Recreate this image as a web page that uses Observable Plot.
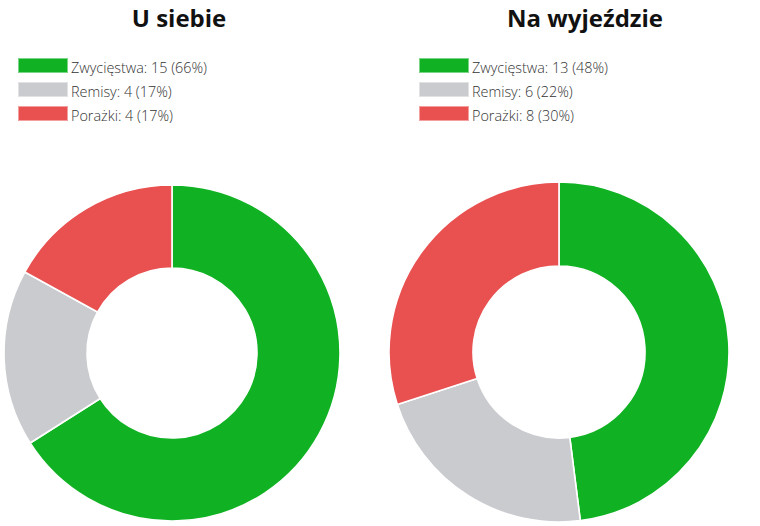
<!DOCTYPE html>
<html>
<head>
<meta charset="utf-8">
<script src="https://cdn.jsdelivr.net/npm/d3@7"></script>
<script src="https://cdn.jsdelivr.net/npm/@observablehq/plot@0.6"></script>
<style>
  html, body { margin: 0; padding: 0; background: #fff; }
  body { width: 760px; height: 526px; position: relative; overflow: hidden; font-family: "Open Sans", sans-serif; }
  .title { position: absolute; top: 6px; font-size: 24px; line-height: 24px; font-weight: 700; color: #111; white-space: nowrap; transform: translateX(-50%); }
  .legend { position: absolute; top: 53px; }
  .lg-swatches { font-family: "Open Sans", sans-serif; font-size: 14.4px; font-weight: 300; color: #333; margin: 0 !important; }
  .lg-swatch { height: 24.3px; padding-bottom: 0 !important; }
  .lg-swatch > svg { margin-right: 3px !important; }
  .lg-swatch > svg rect { stroke: rgba(255,255,255,0.45); stroke-width: 2px; }
  .lg-swatch-label { position: relative; top: 2.5px; line-height: 20px; }
  .pie { position: absolute; }
</style>
</head>
<body>
<script>
// ---- data ----
const categories = ["Zwycięstwa", "Remisy", "Porażki"];
const homeValues = [15, 4, 4];
const awayValues = [13, 6, 8];
const homePercents = [66, 17, 17];
const awayPercents = [48, 22, 30];
const titles = ["U siebie", "Na wyjeździe"];
const colors = ["#10b223", "#cacbcf", "#e95050"];

// ---- layout (panel positions) ----
const panels = [
  {title: titles[0], values: homeValues, percents: homePercents, titleX: 179, legendX: 18, cx: 172, cy: 353, r: 168},
  {title: titles[1], values: awayValues, percents: awayPercents, titleX: 585, legendX: 419, cx: 559, cy: 351.5, r: 170}
];

// slices are sized by the (rounded) percentages shown in the legend
function donut(percents, radius) {
  const data = categories.map((c, i) => ({category: c, value: percents[i]}));
  const size = 2 * radius + 4;
  const color = d3.scaleOrdinal(categories, colors);
  return Plot.plot({
    width: size,
    height: size,
    margin: 0,
    style: {background: "transparent", overflow: "visible"},
    marks: [
      (index, scales, channels, dims) => {
        const g = d3.create("svg:g")
          .attr("transform", `translate(${dims.width / 2},${dims.height / 2})`);
        const arcs = d3.pie().sort(null).value(d => d.value)(data);
        const arc = d3.arc().innerRadius(radius * 0.506).outerRadius(radius);
        g.selectAll("path").data(arcs).join("path")
          .attr("d", arc)
          .attr("fill", d => color(d.data.category))
          .attr("stroke", "#fff")
          .attr("stroke-width", 1.6)
          .attr("stroke-linejoin", "round");
        return g.node();
      }
    ]
  });
}

for (const p of panels) {
  const t = document.createElement("div");
  t.className = "title";
  t.style.left = p.titleX + "px";
  t.textContent = p.title;
  document.body.appendChild(t);

  const labels = categories.map((c, i) => `${c}: ${p.values[i]} (${p.percents[i]}%)`);
  const lg = Plot.legend({
    color: {type: "categorical", domain: labels, range: colors},
    legend: "swatches",
    columns: 1,
    swatchWidth: 50,
    swatchHeight: 15,
    className: "lg"
  });
  const lw = document.createElement("div");
  lw.className = "legend";
  lw.style.left = p.legendX + "px";
  lw.appendChild(lg);
  document.body.appendChild(lw);

  const chart = donut(p.percents, p.r);
  const size = 2 * p.r + 4;
  chart.classList.add("pie");
  chart.style.left = (p.cx - size / 2) + "px";
  chart.style.top = (p.cy - size / 2) + "px";
  document.body.appendChild(chart);
}
</script>
</body>
</html>
